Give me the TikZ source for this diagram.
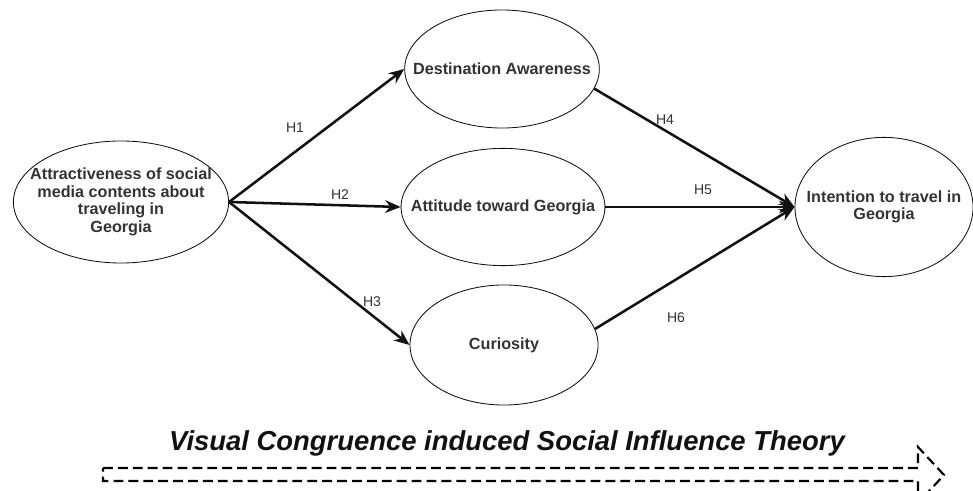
\documentclass[tikz,border=0pt]{standalone}
\usepackage{xcolor}
\usepackage{tikz}
\usepackage{fontspec}
\setmainfont{Liberation Sans}
\usetikzlibrary{shapes.geometric, arrows.meta, positioning, calc}
\definecolor{vtext}{HTML}{333333}
\definecolor{vline}{HTML}{111111}

\begin{document}
\begin{tikzpicture}[
  x=0.025cm, y=-0.025cm,
  construct/.style={
    ellipse,
    draw=vline,
    line width=0.6pt,
    inner sep=-0.5cm,
    align=center,
    text=vtext,
    font=\fontsize{11.5}{12.5}\selectfont\bfseries
  },
  path/.style={
    -{Stealth[length=11pt,width=9pt]},
    line width=1.8pt,
    vline
  },
  hyp/.style={
    font=\fontsize{10}{12}\selectfont,
    text=vtext
  }
]
  \useasboundingbox (0,0) rectangle (973,491);
  \clip (0,0) rectangle (973,491);

  \node[construct, minimum width=5.38cm, minimum height=3.05cm] (attr) at (121,202)
    {Attractiveness of social\\media contents about\\traveling in\\Georgia};
  \node[construct, minimum width=4.8cm, minimum height=2.95cm] (aware) at (502,69) {Destination Awareness};
  \node[construct, minimum width=4.75cm, minimum height=2.93cm] (attit) at (503,207) {Attitude toward Georgia};
  \node[construct, minimum width=4.7cm, minimum height=3cm] (curio) at (504,345) {Curiosity};
  \node[construct, minimum width=4.45cm, minimum height=3.48cm] (inten) at (884,207) {Intention to travel in\\Georgia};

  \draw[path] (attr.east) -- (aware.west);
  \draw[path] (attr.east) -- (attit.west);
  \draw[path] (attr.east) -- (curio.west);
  \draw[path] (aware.-12) -- (inten.west);
  \draw[path] (attit.east) -- (inten.west);
  \draw[path] (curio.10) -- (inten.west);

  \node[hyp] (h1) at (295,128) {H1};
  \node[hyp] (h2) at (340,195) {H2};
  \node[hyp] (h3) at (372,302) {H3};
  \node[hyp] (h4) at (665,120) {H4};
  \node[hyp] (h5) at (703,190) {H5};
  \node[hyp] (h6) at (676,318) {H6};

  % theory banner with hollow dashed arrow
  \node[font=\fontsize{19.5}{22}\selectfont\bfseries\itshape, text=vline] (theory) at (507,443)
    {Visual Congruence induced Social Influence Theory};
  \draw[line width=1.5pt, dash pattern=on 7pt off 3.6pt]
    (103,468) -- (918,468) -- (918,447) -- (944,475) -- (918,503) -- (918,481) -- (103,481) -- cycle;
\end{tikzpicture}
\end{document}
